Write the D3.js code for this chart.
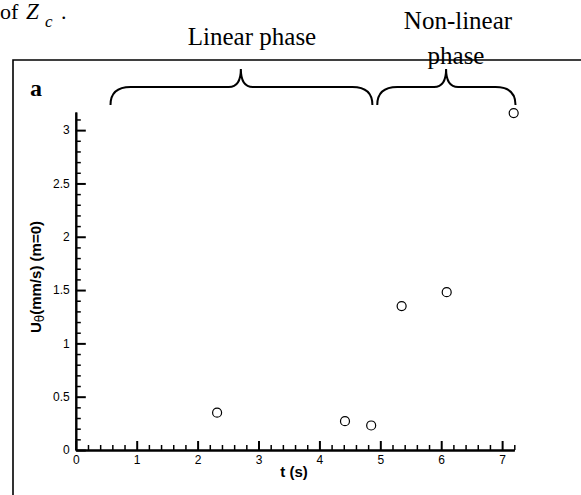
<!DOCTYPE html>
<html>
<head>
<meta charset="utf-8">
<script src="https://cdn.jsdelivr.net/npm/d3@7"></script>
<style>
  html, body { margin: 0; padding: 0; background: #fff; }
  svg { display: block; }
</style>
</head>
<body>
<svg id="chart" width="581" height="495"></svg>
<script>
// ---- data ----
const timeValues = [2.32, 4.42, 4.85, 5.35, 6.09, 7.19];
const velocityValues = [0.35, 0.27, 0.23, 1.35, 1.48, 3.16];
const xTickValues = [0, 1, 2, 3, 4, 5, 6, 7];
const yTickValues = [0, 0.5, 1, 1.5, 2, 2.5, 3];
const yTickLabels = ["0", "0.5", "1", "1.5", "2", "2.5", "3"];
const phaseLabels = ["Linear phase", "Non-linear", "phase"];
const phaseRanges = [[0.57, 4.87, 2.71], [4.95, 7.22, 6.08]]; // [start, end, tip] in t

const svg = d3.select("#chart");
const W = 581, H = 495;

const x = d3.scaleLinear().domain([0, 7.2]).range([75.8, 514.3]);
const y = d3.scaleLinear().domain([0, 3.17]).range([450, 112]);

const sans = "'Liberation Sans', Arial, sans-serif";
const serif = "'Liberation Serif', 'Times New Roman', serif";

// cropped document text at top-left
const headText = svg.append("text").attr("font-family", serif).attr("font-size", 22).attr("fill", "#000");
headText.append("tspan").attr("x", 0).attr("y", 19).text("of");
headText.append("tspan").attr("x", 26).attr("y", 19).attr("font-style", "italic").attr("font-size", 23).text("Z");
headText.append("tspan").attr("x", 45).attr("y", 27).attr("font-style", "italic").attr("font-size", 17).text("c");
headText.append("tspan").attr("x", 61).attr("y", 19).text(".");

// frame
svg.append("path")
  .attr("d", `M13,${H} L13,60 L${W},60`)
  .attr("fill", "none").attr("stroke", "#000").attr("stroke-width", 1.6);

// panel label
svg.append("text").attr("x", 30).attr("y", 96)
  .attr("font-family", serif).attr("font-weight", "bold").attr("font-size", 24)
  .text("a");

// axes
function styleAxis(g, w) {
  g.select(".domain").attr("stroke", "#000").attr("stroke-width", 2);
  g.selectAll(".tick line").attr("stroke", "#000").attr("stroke-width", w);
}
const yMinor = d3.range(0, 32).map(d => d / 10).filter(v => !yTickValues.some(t => Math.abs(t - v) < 1e-9));
const xMinor = d3.range(0, 37).map(d => d / 5).filter(v => v <= 7.2 && !xTickValues.some(t => Math.abs(t - v) < 1e-9));

svg.append("g").attr("transform", `translate(${x(0)},0)`)
  .call(d3.axisLeft(y).tickValues(yMinor).tickSize(-5).tickSizeOuter(0).tickFormat(""))
  .call(g => styleAxis(g, 1.5));
svg.append("g").attr("transform", `translate(0,${y(0)})`)
  .call(d3.axisBottom(x).tickValues(xMinor).tickSize(-5).tickSizeOuter(0).tickFormat(""))
  .call(g => styleAxis(g, 1.5));

const yAxis = svg.append("g").attr("transform", `translate(${x(0)},0)`)
  .call(d3.axisLeft(y).tickValues(yTickValues).tickSize(-10).tickSizeOuter(0).tickPadding(6)
    .tickFormat((d, i) => yTickLabels[i]))
  .call(g => styleAxis(g, 2));
yAxis.selectAll("text").attr("font-family", sans).attr("font-size", 12).attr("fill", "#000");

const xAxis = svg.append("g").attr("transform", `translate(0,${y(0)})`)
  .call(d3.axisBottom(x).tickValues(xTickValues).tickSize(-9).tickSizeOuter(0).tickPadding(5)
    .tickFormat(d3.format("d")))
  .call(g => styleAxis(g, 2));
xAxis.selectAll("text").attr("font-family", sans).attr("font-size", 12).attr("fill", "#000");

// axis titles
svg.append("text").attr("x", 294).attr("y", 477).attr("text-anchor", "middle")
  .attr("font-family", sans).attr("font-weight", "bold").attr("font-size", 15).text("t (s)");

const yt = svg.append("text").attr("transform", "translate(41,277) rotate(-90)")
  .attr("text-anchor", "middle").attr("font-family", sans).attr("font-weight", "bold").attr("font-size", 15);
yt.append("tspan").text("U");
yt.append("tspan").attr("font-weight", "normal").attr("font-size", 12).attr("font-family", "'DejaVu Sans', sans-serif").attr("dy", 3).text("θ");
yt.append("tspan").attr("dy", -3).text("(mm/s) (m=0)");

// points
svg.append("g").selectAll("circle")
  .data(timeValues.map((t, i) => [t, velocityValues[i]]))
  .join("circle")
  .attr("cx", d => x(d[0])).attr("cy", d => y(d[1])).attr("r", 4.5)
  .attr("fill", "#fff").attr("stroke", "#000").attr("stroke-width", 1.2);

// braces
function brace(x0, x1, xt, ytip, yh, yb, r, rt) {
  return `M${x0},${yb} Q${x0},${yh} ${x0 + r},${yh} L${xt - rt},${yh} Q${xt},${yh} ${xt},${ytip}` +
         ` Q${xt},${yh} ${xt + rt},${yh} L${x1 - r},${yh} Q${x1},${yh} ${x1},${yb}`;
}
svg.append("g").selectAll("path")
  .data(phaseRanges)
  .join("path")
  .attr("d", d => brace(x(d[0]), x(d[1]), x(d[2]), 69, 87, 105, 20, 12))
  .attr("fill", "none").attr("stroke", "#000").attr("stroke-width", 2);

// phase labels
svg.append("text").attr("x", 252).attr("y", 45).attr("text-anchor", "middle")
  .attr("font-family", serif).attr("font-size", 25).text(phaseLabels[0]);
svg.append("text").attr("x", 458).attr("y", 29).attr("text-anchor", "middle")
  .attr("font-family", serif).attr("font-size", 25).text(phaseLabels[1]);
svg.append("text").attr("x", 456).attr("y", 64).attr("text-anchor", "middle")
  .attr("font-family", serif).attr("font-size", 25).text(phaseLabels[2]);
</script>
</body>
</html>
